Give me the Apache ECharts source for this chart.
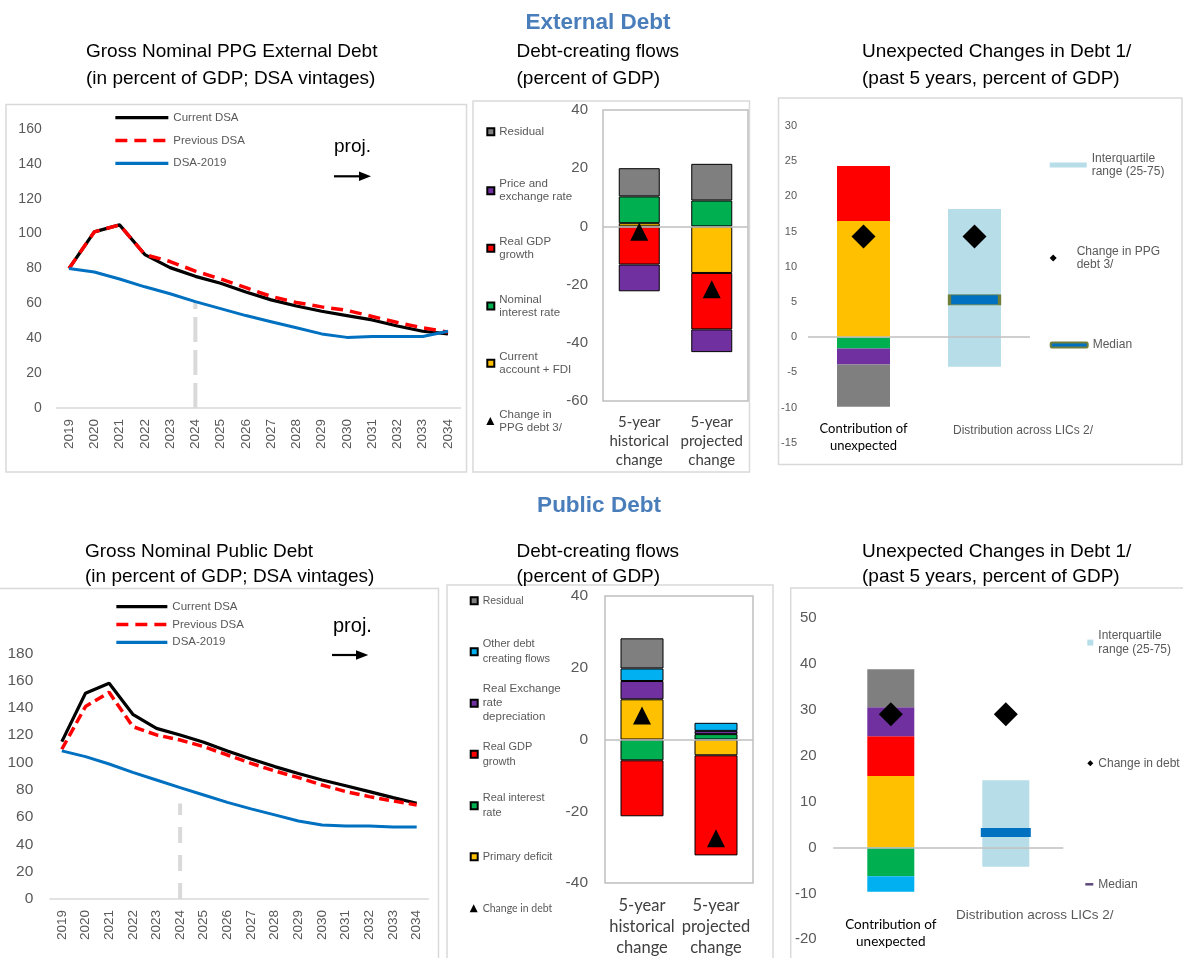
<!DOCTYPE html>
<html><head><meta charset="utf-8">
<script src="https://cdn.jsdelivr.net/npm/echarts/dist/echarts.min.js"></script>
<style>html,body{margin:0;padding:0;background:#fff}#c{width:1183px;height:958px}</style>
</head><body><div id="c"></div>
<script>
// ---------- DATA ----------
const years = ['2019','2020','2021','2022','2023','2024','2025','2026','2027','2028','2029','2030','2031','2032','2033','2034'];
// External debt (PPG), percent of GDP
const extCurrent  = [80,101,105,88,80.5,75.5,71.5,66.5,62,58.5,55.5,53,50.5,47,44,42.5];
const extPrevious = [80,101,105,88,84,78.5,74,69,64,60.5,58,56,52.5,49,46,43.5];
const extDSA2019  = [80,78,74,69.5,65.5,61,57,53,49.5,46,42.5,40.5,41,41,41,44];
const extProjLine = [0, 61];
// Public debt, percent of GDP
const pubCurrent  = [115.3,150.7,158,135.3,125,120.2,114.8,108.5,102.6,97,92,87.2,83,78.7,74.3,70.1];
const pubPrevious = [109.7,141,151.4,126.3,120.2,116.5,111.6,105.5,99.4,93.8,88.9,83.5,78.7,75,71.8,68.9];
const pubDSA2019  = [108.5,104.3,98.9,92.8,87.2,81.6,76.2,70.8,66,61.6,57.2,54.2,53.5,53.5,52.8,52.8];
const pubProjLine = [0, 70];
const projYear = '2024';
// Debt-creating flows
const flowCats = ['5-year\nhistorical\nchange', '5-year\nprojected\nchange'];
const extCAFDI   = [1.1, -16];
const extNomInt  = [9.2, 8.9];
const extRealGDP = [-13.1, -19.4];
const extPriceEx = [-9.2, -7.8];
const extResid   = [9.7, 12.6];
const extChange  = [-1.8, -21.6];
const pubPrimDef = [11.2, -4.4];
const pubRealInt = [-5.8, 1.5];
const pubRealGDP = [-15.6, -27.9];
const pubRER     = [5.1, 0.9];
const pubOther   = [3.5, 2.25];
const pubResid   = [8.4, null];
const pubChange  = [6.7, -27.5];
// Unexpected changes in debt
const unexpCats = ['Contribution of\nunexpected', 'Distribution across LICs 2/'];
const uExtCA = 16.5, uExtGDP = 7.8, uExtInt = -1.6, uExtPrice = -2.3, uExtResid = -6.0;
const uExtIQR = [-4.2, 18.2];
const uExtMedian = 5.3;
const uExtChange = [14.3, 14.3];
const uPubPD = 15.6, uPubGDP = 8.7, uPubRER = 6.3, uPubResid = 8.3, uPubInt = -6.25, uPubOther = -3.4;
const uPubIQR = [-4.2, 14.7];
const uPubMedian = 3.3;
const uPubChange = [29.1, 29.1];

// ---------- STYLE ----------
const FF = '"Liberation Sans", Arial, sans-serif';
const FC = 'Lato, "Open Sans", sans-serif';
const C = {yellow:'#ffc000', green:'#00b050', red:'#ff0000', purple:'#7030a0', gray:'#7f7f7f', cyan:'#00b0f0', iqr:'#b7dee8', med:'#0070c0', blue:'#0070c0'};
const G = '#595959';

const chart = echarts.init(document.getElementById('c'), null, {renderer:'canvas'});

const grids = [
  {left:56.4, top:129, width:404.2, height:279},
  {left:603, top:110, width:145, height:291, show:true, borderColor:'#bfbfbf', borderWidth:1.5},
  {left:808, top:126, width:222, height:316.7},
  {left:50, top:653.3, width:378.5, height:245.7},
  {left:605, top:596, width:148, height:287, show:true, borderColor:'#bfbfbf', borderWidth:1.5},
  {left:833.3, top:618.3, width:230, height:321}
].map(g => Object.assign({outerBoundsMode:'none', containLabel:false}, g));

function yearAxis(gi, margin){
  return {type:'category', gridIndex:gi, data:years, boundaryGap:true,
    axisLine:{show:true, onZero:false, lineStyle:{color:'#d9d9d9', width:1.5}}, axisTick:{show:false},
    axisLabel:{rotate:90, interval:0, fontSize:13.5, color:G, margin:margin, fontFamily:FF}};
}
function flowAxis(gi, fs, lh, margin){
  return {type:'category', gridIndex:gi, data:flowCats, axisLine:{show:false, onZero:false}, axisTick:{show:false},
    axisLabel:{interval:0, fontSize:fs, lineHeight:lh, color:'#404040', fontFamily:FC, margin:margin}};
}
function unexpAxis(gi, margin, rich, fmt){
  return {type:'category', gridIndex:gi, data:unexpCats, position:'bottom', axisLine:{show:false, onZero:false}, axisTick:{show:false},
    axisLabel:{interval:0, margin:margin, formatter:fmt, rich:rich}};
}
function valAxis(gi, min, max, interval, fs, margin){
  return {type:'value', gridIndex:gi, min:min, max:max, interval:interval,
    axisLine:{show:false}, axisTick:{show:false}, splitLine:{show:false},
    axisLabel:{fontSize:fs, color:G, margin:margin, fontFamily:FF}};
}
const catOne = (v, i) => i === 0 ? v.split('\n').map(s => '{a|' + s + '}').join('\n') : '';
const catTwo = (v, i) => i === 1 ? '{b|' + v + '}' : '';

const xAxis = [
  yearAxis(0, 11),
  flowAxis(1, 15, 19, 12),
  unexpAxis(2, -22,
    {a:{fontFamily:FC, fontSize:13, color:'#000', lineHeight:17},
     b:{fontFamily:FF, fontSize:12, color:G, lineHeight:17, padding:[2.4,0,0,97]}},
    (v, i) => i === 0 ? catOne(v, i) : catTwo(v, i)),
  yearAxis(3, 11),
  flowAxis(4, 16.5, 21, 12.5),
  unexpAxis(5, -22.8,
    {a:{fontFamily:FC, fontSize:13.5, color:'#000', lineHeight:17}}, catOne),
  unexpAxis(5, -32.8,
    {b:{fontFamily:FF, fontSize:13.5, color:G, lineHeight:17, padding:[0,0,0,58]}}, catTwo)
];
const yAxis = [
  valAxis(0, 0, 160, 20, 14, 14.7),
  valAxis(1, -60, 40, 20, 15, 15),
  valAxis(2, -15, 30, 5, 11, 11),
  valAxis(3, 0, 180, 20, 15.5, 16.7),
  valAxis(4, -40, 40, 20, 15.5, 17),
  valAxis(5, -20, 50, 10, 15, 16.6)
];

// legends
function lg(name, left, cy, o){
  const disp = o.text || name;
  const lines = disp.split('\n').length;
  const lh = o.lh;
  const l = {
    data:[o.itemStyle ? {name:name, itemStyle:o.itemStyle} : name],
    left:left, top: cy - (2*lines-1)*lh/2, orient:'vertical', padding:0,
    itemWidth:o.iw, itemHeight:o.ih, selectedMode:false,
    textStyle:{fontSize:o.fs, lineHeight:lh, color:G, fontFamily:o.ff || FF, padding:[(lines-1)*lh,0,0,0]}
  };
  if (o.icon) l.icon = o.icon;
  if (o.text) l.formatter = () => o.text;
  return l;
}
const DIAMOND = 'path://M0,-1L1,0L0,1L-1,0Z';
const lineLegend = (left, top, gap, iw) => ({data:['Current DSA','Previous DSA','DSA-2019'], left:left, top:top, orient:'vertical', padding:0, itemGap:gap,
   itemWidth:iw, itemHeight:8, selectedMode:false, itemStyle:{opacity:0}, lineStyle:{width:3.3},
   textStyle:{fontSize:11.5, lineHeight:13, color:G, fontFamily:FF}});
const legends = [
  lineLegend(113.7, 111.2, 9.8, 53),
  lineLegend(114.7, 600.2, 4.8, 51),
  // external flows legend
  lg('Residual', 486.3, 131.7, {fs:11.5, lh:13, iw:7, ih:7, icon:'rect'}),
  lg('Price and\nexchange rate', 486.3, 190.7, {fs:11.5, lh:13, iw:7, ih:7, icon:'rect'}),
  lg('Real GDP\ngrowth', 486.3, 248.3, {fs:11.5, lh:13, iw:7, ih:7, icon:'rect'}),
  lg('Nominal\ninterest rate', 486.3, 306, {fs:11.5, lh:13, iw:7, ih:7, icon:'rect'}),
  lg('Current\naccount + FDI', 486.3, 363.3, {fs:11.5, lh:13, iw:7, ih:7, icon:'rect'}),
  lg('Change in\nPPG debt 3/', 486.3, 421, {fs:11.5, lh:13, iw:8, ih:8, icon:'triangle'}),
  // external unexpected legend
  lg('Interquartile\nrange (25-75)', 1049.7, 165, {fs:12, lh:13.5, iw:37, ih:5, icon:'rect'}),
  lg('Change in PPG\ndebt 3/', 1049.7, 258, {fs:12, lh:13.5, iw:37, ih:7, icon:DIAMOND}),
  lg('Median', 1049.7, 345, {fs:12, lh:13.5, iw:37, ih:5, icon:'roundRect'}),
  // public flows legend
  lg('Residual', 469.7, 600.7, {fs:10.5, lh:14.5, iw:7, ih:7, icon:'rect'}),
  lg('Other debt\ncreating flows', 469.7, 651.7, {fs:11, lh:14.5, iw:7, ih:7, icon:'rect'}),
  lg('Real Exchange\nrate\ndepreciation', 469.7, 703.3, {fs:11.5, lh:14, iw:7, ih:7, icon:'rect'}),
  lg('Real GDP\ngrowth', 469.7, 754.3, {fs:11, lh:14.5, iw:7, ih:7, icon:'rect'}),
  lg('Real interest\nrate', 469.7, 805.7, {fs:11, lh:14.5, iw:7, ih:7, icon:'rect'}),
  lg('Primary deficit', 469.7, 856.7, {fs:11, lh:14.5, iw:7, ih:7, icon:'rect'}),
  lg('Change in debt', 469.7, 908.3, {fs:10.5, lh:14.5, iw:8, ih:8, icon:'triangle', ff:FC}),
  // public unexpected legend
  lg('Interquartile\nrange (25-75)', 1087.3, 642.6, {fs:12, lh:13.5, iw:6, ih:6, icon:'rect'}),
  lg('Change in debt (LICs)', 1087.3, 763.3, {fs:12, lh:13.5, iw:6, ih:6, icon:DIAMOND, text:'Change in debt'}),
  lg('Median', 1085.3, 884.3, {fs:12, lh:13.5, iw:8, ih:2.5, icon:'rect', itemStyle:{color:'#5f497a', borderWidth:0}})
];

const zeroLine = {silent:true, symbol:'none', label:{show:false}, lineStyle:{color:'#bfbfbf', width:1.5, type:'solid'}, data:[{yAxis:0}]};
const barBorder = {borderColor:'#000', borderWidth:1};
function fbar(name, xi, data, color, stack){
  return {type:'bar', name:name, xAxisIndex:xi, yAxisIndex:xi, stack:stack, data:data, barWidth:xi===1?41:43,
    itemStyle:Object.assign({color:color}, barBorder)};
}
function ubar(name, xi, data, color, stack, bw){
  return {type:'bar', name:name, xAxisIndex:xi, yAxisIndex:xi, stack:stack, data:data, barWidth:bw, itemStyle:{color:color}};
}

const series = [
  // panel 1
  {type:'line', name:'proj-ext', xAxisIndex:0, yAxisIndex:0, data:extProjLine.map(v => [projYear, v]), symbol:'none', silent:true,
   lineStyle:{color:'#d9d9d9', width:4, type:[25,8]}},
  {type:'line', name:'Current DSA', xAxisIndex:0, yAxisIndex:0, data:extCurrent, symbol:'none', lineStyle:{color:'#000', width:3.2}, itemStyle:{color:'#000'}},
  {type:'line', name:'Previous DSA', xAxisIndex:0, yAxisIndex:0, data:extPrevious, symbol:'none', lineStyle:{color:'#ff0000', width:3.5, type:[12,7]}, itemStyle:{color:'#ff0000'}},
  {type:'line', name:'DSA-2019', xAxisIndex:0, yAxisIndex:0, data:extDSA2019, symbol:'none', lineStyle:{color:C.blue, width:3}, itemStyle:{color:C.blue}},
  // panel 2
  fbar('Current\naccount + FDI', 1, extCAFDI, C.yellow, 'ef'),
  fbar('Nominal\ninterest rate', 1, extNomInt, C.green, 'ef'),
  fbar('Real GDP\ngrowth', 1, extRealGDP, C.red, 'ef'),
  fbar('Price and\nexchange rate', 1, extPriceEx, C.purple, 'ef'),
  fbar('Residual', 1, extResid, C.gray, 'ef'),
  {type:'scatter', name:'Change in\nPPG debt 3/', xAxisIndex:1, yAxisIndex:1, data:extChange, symbol:'triangle', symbolSize:18,
   itemStyle:{color:'#000', opacity:1}, markLine:zeroLine, z:5},
  // panel 3
  ubar('u-ext-ca', 2, [uExtCA, null], C.yellow, 'ue', 53),
  ubar('u-ext-gdp', 2, [uExtGDP, null], C.red, 'ue', 53),
  ubar('u-ext-int', 2, [uExtInt, null], C.green, 'ue', 53),
  ubar('u-ext-price', 2, [uExtPrice, null], C.purple, 'ue', 53),
  ubar('u-ext-resid', 2, [uExtResid, null], C.gray, 'ue', 53),
  ubar('Interquartile\nrange (25-75)', 2, [null, uExtIQR[1]], C.iqr, 'ue', 53),
  ubar('iqr-ext-low', 2, [null, uExtIQR[0]], C.iqr, 'ue', 53),
  {type:'scatter', name:'Median', xAxisIndex:2, yAxisIndex:2, data:[null, uExtMedian], symbol:'rect', symbolSize:[50,10],
   itemStyle:{color:C.med, borderColor:'#6f7f3a', borderWidth:1.5, opacity:1}, z:4},
  {type:'scatter', name:'Change in PPG\ndebt 3/', xAxisIndex:2, yAxisIndex:2, data:uExtChange, symbol:'diamond', symbolSize:24,
   itemStyle:{color:'#000', opacity:1}, markLine:zeroLine, z:5},
  // panel 4
  {type:'line', name:'proj-pub', xAxisIndex:3, yAxisIndex:3, data:pubProjLine.map(v => [projYear, v]), symbol:'none', silent:true,
   lineStyle:{color:'#d9d9d9', width:4, type:[16,12]}},
  {type:'line', name:'Current DSA', xAxisIndex:3, yAxisIndex:3, data:pubCurrent, symbol:'none', lineStyle:{color:'#000', width:3.2}, itemStyle:{color:'#000'}},
  {type:'line', name:'Previous DSA', xAxisIndex:3, yAxisIndex:3, data:pubPrevious, symbol:'none', lineStyle:{color:'#ff0000', width:3.5, type:[10,5]}, itemStyle:{color:'#ff0000'}},
  {type:'line', name:'DSA-2019', xAxisIndex:3, yAxisIndex:3, data:pubDSA2019, symbol:'none', lineStyle:{color:C.blue, width:3}, itemStyle:{color:C.blue}},
  // panel 5
  fbar('Primary deficit', 4, pubPrimDef, C.yellow, 'pf'),
  fbar('Real interest\nrate', 4, pubRealInt, C.green, 'pf'),
  fbar('Real GDP\ngrowth', 4, pubRealGDP, C.red, 'pf'),
  fbar('Real Exchange\nrate\ndepreciation', 4, pubRER, C.purple, 'pf'),
  fbar('Other debt\ncreating flows', 4, pubOther, C.cyan, 'pf'),
  fbar('Residual', 4, pubResid, C.gray, 'pf'),
  {type:'scatter', name:'Change in debt', xAxisIndex:4, yAxisIndex:4, data:pubChange, symbol:'triangle', symbolSize:18,
   itemStyle:{color:'#000', opacity:1}, markLine:zeroLine, z:5},
  // panel 6
  ubar('u-pub-pd', 5, [uPubPD, null], C.yellow, 'up', 47),
  ubar('u-pub-gdp', 5, [uPubGDP, null], C.red, 'up', 47),
  ubar('u-pub-rer', 5, [uPubRER, null], C.purple, 'up', 47),
  ubar('u-pub-resid', 5, [uPubResid, null], C.gray, 'up', 47),
  ubar('u-pub-int', 5, [uPubInt, null], C.green, 'up', 47),
  ubar('u-pub-other', 5, [uPubOther, null], C.cyan, 'up', 47),
  ubar('Interquartile\nrange (25-75)', 5, [null, uPubIQR[1]], C.iqr, 'up', 47),
  ubar('iqr-pub-low', 5, [null, uPubIQR[0]], C.iqr, 'up', 47),
  {type:'scatter', name:'Median', xAxisIndex:5, yAxisIndex:5, data:[null, uPubMedian], symbol:'rect', symbolSize:[50,9],
   itemStyle:{color:C.med, opacity:1}, z:4},
  {type:'scatter', name:'Change in debt (LICs)', xAxisIndex:5, yAxisIndex:5, data:uPubChange, symbol:'diamond', symbolSize:24,
   itemStyle:{color:'#000', opacity:1}, markLine:zeroLine, z:5}
];

// graphic: frames, titles, proj. arrows
function box(x, y, w, h){ return {type:'rect', shape:{x:x, y:y, width:w, height:h}, style:{fill:'none', stroke:'#d9d9d9', lineWidth:1.5}, silent:true, z:-1}; }
function txt(t, x, y, font, fill, align, lh){
  return {type:'text', x:x, y:y, silent:true, style:{text:t, font:font, fill:fill, align:align||'left', verticalAlign:'top', lineHeight:lh}};
}
const TF = '19px ' + FF;
const HF = 'bold 22.5px ' + FF;
const HC = '#4a7ebb';
function arrow(x1, x2, y, hx){
  return [
    {type:'line', shape:{x1:x1, y1:y, x2:hx+1, y2:y}, style:{stroke:'#000', lineWidth:2.2}, silent:true},
    {type:'polygon', shape:{points:[[hx, y-4.8],[x2, y],[hx, y+4.8]]}, style:{fill:'#000'}, silent:true}
  ];
}
const graphics = [
  box(6, 104.5, 460.5, 367.5), box(473, 101, 276.5, 371), box(778.5, 98, 403.5, 366.5),
  box(-2, 588.5, 440.5, 380), box(447, 585, 326, 380), box(790.7, 588, 400, 380),
  {type:'text', x:598, y:23, silent:true, style:{text:'External Debt', font:HF, fill:HC, align:'center', verticalAlign:'middle'}},
  {type:'text', x:599, y:506, silent:true, style:{text:'Public Debt', font:HF, fill:HC, align:'center', verticalAlign:'middle'}},
  txt('Gross Nominal PPG External Debt\n(in percent of GDP; DSA vintages)', 86, 38.5, TF, '#000', 'left', 27),
  txt('Debt-creating flows\n(percent of GDP)', 516.5, 38.5, TF, '#000', 'left', 27),
  txt('Unexpected Changes in Debt 1/\n(past 5 years, percent of GDP)', 862, 38.5, TF, '#000', 'left', 27),
  txt('Gross Nominal Public Debt\n(in percent of GDP; DSA vintages)', 85, 538.8, TF, '#000', 'left', 25.5),
  txt('Debt-creating flows\n(percent of GDP)', 516.5, 538.8, TF, '#000', 'left', 25.5),
  txt('Unexpected Changes in Debt 1/\n(past 5 years, percent of GDP)', 862, 538.8, TF, '#000', 'left', 25.5),
  {type:'text', x:334, y:147, silent:true, style:{text:'proj.', font:'19px ' + FF, fill:'#000', align:'left', verticalAlign:'middle'}},
  {type:'text', x:333, y:626, silent:true, style:{text:'proj.', font:'20px ' + FF, fill:'#000', align:'left', verticalAlign:'middle'}}
].concat(arrow(334, 371, 176.3, 359), arrow(332, 368.3, 655, 356));

chart.setOption({
  animation:false,
  backgroundColor:'#fff',
  textStyle:{fontFamily:FF},
  grid:grids, xAxis:xAxis, yAxis:yAxis, legend:legends,
  graphic:{elements:graphics},
  series:series
});
</script></body></html>
